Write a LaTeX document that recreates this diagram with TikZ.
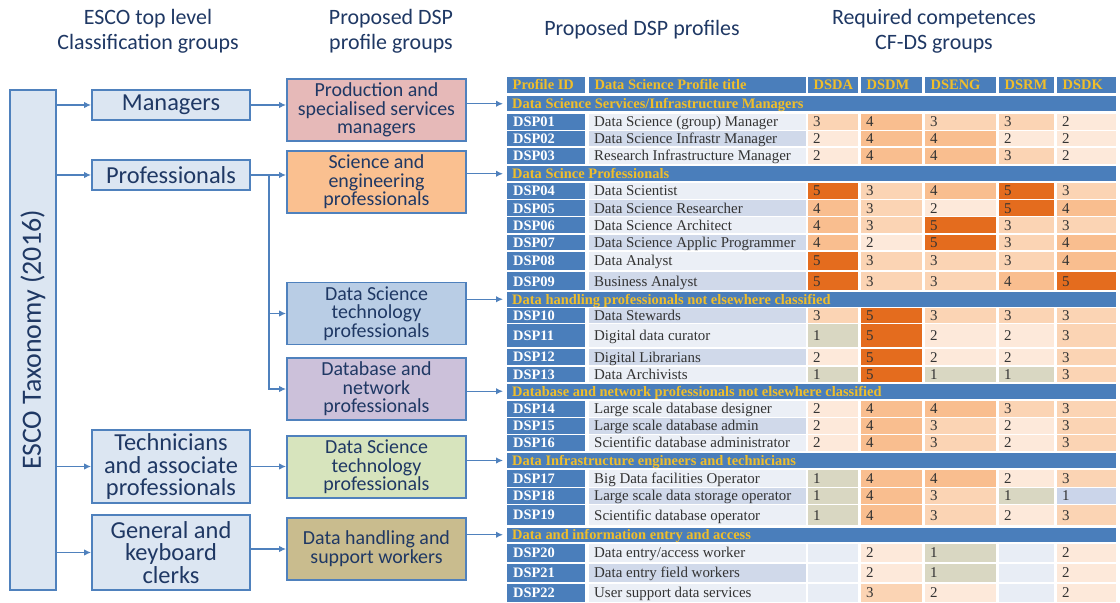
\documentclass[tikz,border=0pt]{standalone}
\usepackage{fontspec}
\setmainfont{Carlito}
\newfontfamily\tabfont{Liberation Serif}
\usetikzlibrary{arrows.meta}

\definecolor{frame}{HTML}{4F81BD}
\definecolor{navy}{HTML}{1F3864}
\definecolor{paleblue}{HTML}{DCE6F2}
\definecolor{rosebox}{HTML}{E6B9B8}
\definecolor{orangebox}{HTML}{FAC090}
\definecolor{bluebox}{HTML}{B9CDE5}
\definecolor{lilacbox}{HTML}{CCC1DA}
\definecolor{greenbox}{HTML}{D7E4BD}
\definecolor{tanbox}{HTML}{C9BC8E}
\definecolor{tblue}{HTML}{4A7EBB}
\definecolor{tgold}{HTML}{F0BE2A}
\definecolor{darktext}{HTML}{333333}
\definecolor{rowa}{HTML}{EBEFF6}
\definecolor{rowb}{HTML}{D0D9EA}
\definecolor{cell0}{HTML}{E8EDF5}
\definecolor{cell1}{HTML}{D9D7C2}
\definecolor{cell2}{HTML}{FDE9DA}
\definecolor{cell3}{HTML}{FBD4B4}
\definecolor{cell4}{HTML}{F9BE8F}
\definecolor{cell5}{HTML}{E46C1E}
\definecolor{cellb}{HTML}{CBD5EA}

\begin{document}
\begin{tikzpicture}[x=1bp,y=-1bp,
  grp/.style={draw=frame,line width=1.8bp,fill=paleblue,text=navy,inner sep=0pt,
    align=center,font=\fontsize{24.5}{22.5}\selectfont},
  dsp/.style={draw=frame,line width=1.8bp,text=navy,inner sep=0pt,align=center,
    minimum width=179bp,minimum height=62bp,font=\fontsize{20}{18.7}\selectfont},
  flow/.style={frame,line width=1.4bp,-{Latex[length=7bp,width=6.5bp]}},
  colhead/.style={text=navy,align=center,font=\fontsize{22}{25}\selectfont},
  hdtxt/.style={text=tgold,anchor=west,inner sep=0pt,text height=9.6bp,text depth=0pt,
    font=\tabfont\bfseries\fontsize{14.5}{14.5}\selectfont},
  idtxt/.style={hdtxt,text=white},
  celltxt/.style={text=darktext,anchor=west,inner sep=0pt,text height=10bp,text depth=0pt,
    font=\tabfont\fontsize{15}{15}\selectfont}]
  \useasboundingbox[fill=white] (0,0) rectangle (1120,603);

  % column titles
  \node[colhead] (hesco) at (148,31) {ESCO top level\\Classification groups};
  \node[colhead] (hgrp)  at (391,31) {Proposed DSP\\profile groups};
  \node[colhead] (hprof) at (642,30) {Proposed DSP profiles};
  \node[colhead] (hcomp) at (934,31) {Required competences\\CF-DS groups};

  % ESCO groups
  \node[grp,rotate=90,minimum width=500bp,minimum height=46bp,
        font=\fontsize{28}{28}\selectfont] (esco) at (33,340) {ESCO Taxonomy (2016)};
  \node[grp,minimum width=158bp,minimum height=30bp] (mgr)   at (171,105)   {Managers};
  \node[grp,minimum width=158bp,minimum height=30bp] (pro)   at (171,175)   {Professionals};
  \node[grp,minimum width=158bp,minimum height=73bp] (tech)  at (171,466.5) {Technicians\\and associate\\professionals};
  \node[grp,minimum width=158bp,minimum height=75bp] (clerk) at (171,552.5) {General and\\keyboard\\clerks};

  % DSP profile groups
  \node[dsp,fill=rosebox]   (prod)   at (376.5,110) {Production and\\specialised services\\managers};
  \node[dsp,fill=orangebox] (sci)    at (376.5,182) {Science and\\engineering\\professionals};
  \node[dsp,fill=bluebox]   (dst)    at (376.5,313.5) {Data Science\\technology\\professionals};
  \node[dsp,fill=lilacbox]  (dbn)    at (376.5,389) {Database and\\network\\professionals};
  \node[dsp,fill=greenbox]  (dstech) at (376.5,467) {Data Science\\technology\\professionals};
  \node[dsp,fill=tanbox]    (dhs)    at (376.5,549) {Data handling and\\support workers};

  \draw[flow] (esco.south |- mgr) -- (mgr.west);
  \draw[flow] (esco.south |- pro) -- (pro.west);
  \draw[flow] (esco.south |- tech) -- (tech.west);
  \draw[flow] (esco.south |- clerk) -- (clerk.west);
  \draw[flow] (mgr.east) -- (mgr.east -| prod.west);
  \draw[flow] (pro.east) -- (pro.east -| sci.west);
  \coordinate (fork) at ([xshift=18bp]pro.east);
  \draw[flow] (fork) |- (dst.west);
  \draw[flow] (fork) |- (dbn.west);
  \draw[flow] (tech.east) -- (tech.east -| dstech.west);
  \draw[flow] (dhs.west -| clerk.east) -- (dhs.west);

  % table header
  \foreach \xl/\xr/\txt [count=\i] in {507/585/Profile ID, 589/806/Data Science Profile title,
      808/858/DSDA, 861/922/DSDM, 925/996/DSENG, 999/1054/DSRM, 1057/1116/DSDK}{
    \fill[tblue] (\xl,77) rectangle (\xr,93);
    \node[hdtxt] (head\i) at (\xl+5.5,85) {\txt};
  }

  % section bars
  \foreach \s/\yt/\yb/\txt in {1/96/111.5/{Data Science Services/Infrastructure Managers},
      2/166/181.5/{Data Scince Professionals},
      3/292/306.5/{Data handling professionals not elsewhere classified},
      4/384/398.5/{Database and network professionals not elsewhere classified},
      5/453/468/{Data Infrastructure engineers and technicians},
      6/527.5/542/{Data and information entry and access}}{
    \fill[tblue] (507,\yt) rectangle (1116,\yb);
    \coordinate (sec\s) at (503,{(\yt+\yb)/2});
    \node[hdtxt] (sectxt\s) at (512,{(\yt+\yb)/2}) {\txt};
  }

  % profile rows: id/title/top/bottom/shade/competence levels (0 = empty)
  \foreach \id/\ttl/\yt/\yb/\sh/\vals in {
      DSP01/{Data Science (group) Manager}/114/130/rowa/{3,4,3,3,2},
      DSP02/{Data Science Infrastr Manager}/131.5/146.5/rowb/{2,4,4,2,2},
      DSP03/{Research Infrastructure Manager}/148/164/rowa/{2,4,4,3,2},
      DSP04/{Data Scientist}/183/199/rowa/{5,3,4,5,3},
      DSP05/{Data Science Researcher}/200.5/216/rowb/{4,3,2,5,4},
      DSP06/{Data Science Architect}/217.5/233.5/rowa/{4,3,5,3,3},
      DSP07/{Data Science Applic Programmer}/235/250.5/rowb/{4,2,5,3,4},
      DSP08/{Data Analyst}/252/270/rowa/{5,3,3,3,4},
      DSP09/{Business Analyst}/272.5/290/rowb/{5,3,3,4,5},
      DSP10/{Data Stewards}/308/322.5/rowb/{3,5,3,3,3},
      DSP11/{Digital data curator}/324/347/rowa/{1,5,2,2,3},
      DSP12/{Digital Librarians}/349/365/rowb/{2,5,2,2,3},
      DSP13/{Data Archivists}/366.5/382/rowa/{1,5,1,1,3},
      DSP14/{Large scale database designer}/400.5/416.5/rowa/{2,4,4,3,3},
      DSP15/{Large scale database admin}/418/433.5/rowb/{2,4,3,2,3},
      DSP16/{Scientific database administrator}/435/450.5/rowa/{2,4,3,2,3},
      DSP17/{Big Data facilities Operator}/470/486.5/rowa/{1,4,4,2,3},
      DSP18/{Large scale data storage operator}/488/503.5/rowb/{1,4,3,1,1},
      DSP19/{Scientific database operator}/505/525/rowa/{1,4,3,2,3},
      DSP20/{Data entry/access worker}/543.5/562/rowa/{0,2,1,0,2},
      DSP21/{Data entry field workers}/563.5/582/rowb/{0,2,1,0,2},
      DSP22/{User support data services}/583.5/602/rowa/{0,3,2,0,2}}{
    \fill[tblue] (507,\yt) rectangle (585,\yb);
    \fill[\sh] (589,\yt) rectangle (806,\yb);
    \node[idtxt] (\id) at (513,{(\yt+\yb)/2}) {\id};
    \node[celltxt] (\id-t) at (594,{(\yt+\yb)/2}) {\ttl};
    \foreach \v [count=\c] in \vals {
      \pgfmathsetmacro{\xl}{{808,861,925,999,1057}[\c-1]}
      \pgfmathsetmacro{\xr}{{858,922,996,1054,1116}[\c-1]}
      \fill[cell\v] (\xl,\yt) rectangle (\xr,\yb);
      \ifnum\v>0 \node[celltxt] (\id-\c) at (\xl+5,{(\yt+\yb)/2}) {\v};\fi
    }
  }
  \fill[cellb] (1057,488) rectangle (1116,503.5);
  \node[celltxt] (DSP18-5b) at (1062,495.75) {1};

  % groups to table sections
  \draw[flow] (prod.east |- sec1) -- (sec1);
  \draw[flow] (sci.east |- sec2) -- (sec2);
  \draw[flow] (dst.east |- sec3) -- (sec3);
  \draw[flow] (dbn.east |- sec4) -- (sec4);
  \draw[flow] (dstech.east |- sec5) -- (sec5);
  \draw[flow] (dhs.east |- sec6) -- (sec6);
\end{tikzpicture}
\end{document}
